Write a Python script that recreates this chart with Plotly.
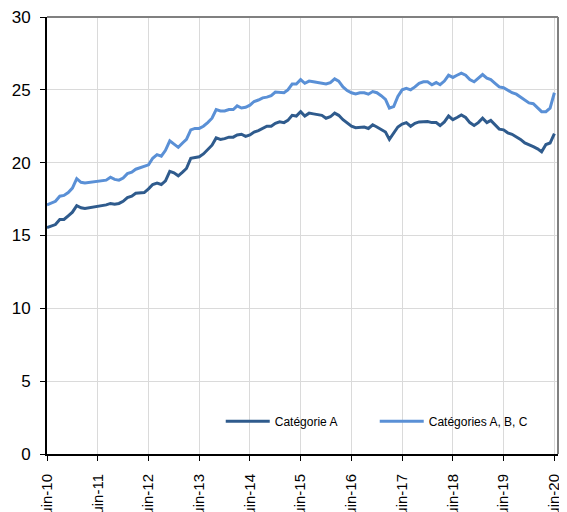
import pandas as pd
import plotly.graph_objects as go

dates = pd.date_range("2010-06-01", periods=121, freq="MS")

cat_a = [15.55, 15.65, 15.75, 16.1, 16.1, 16.35, 16.6, 17.05, 16.9, 16.85, 16.9, 16.95,
         16.95, 17.0, 17.1, 17.2, 17.15, 17.2, 17.35, 17.6, 17.7, 17.9, 17.9, 17.95,
         18.2, 18.5, 18.6, 18.5, 18.75, 19.4, 19.3, 19.1, 19.35, 19.6, 20.3, 20.35,
         20.4, 20.6, 20.9, 21.2, 21.7, 21.6, 21.65, 21.75, 21.75, 21.9, 21.95, 21.8,
         21.9, 22.1, 22.2, 22.35, 22.5, 22.5, 22.7, 22.8, 22.75, 22.9, 23.25, 23.2,
         23.5, 23.2, 23.4, 23.35, 23.3, 23.25, 23.05, 23.15, 23.4, 23.25, 22.95, 22.7,
         22.5, 22.4, 22.45, 22.45, 22.35, 22.6, 22.45, 22.25, 22.1, 21.6, 22.05, 22.45,
         22.65, 22.75, 22.5, 22.7, 22.8, 22.8, 22.82, 22.75, 22.75, 22.55, 22.8, 23.2,
         22.95, 23.1, 23.28, 23.1, 22.75, 22.55, 22.75, 23.05, 22.75, 22.9, 22.6, 22.3,
         22.25, 22.05, 21.95, 21.8, 21.6, 21.35, 21.25, 21.1, 20.95, 20.75, 21.25, 21.35,
         22.0]

cat_abc = [17.1, 17.2, 17.35, 17.7, 17.75, 17.95, 18.25, 18.9, 18.65, 18.6, 18.65, 18.7,
           18.7, 18.75, 18.8, 19.0, 18.85, 18.8, 18.95, 19.25, 19.35, 19.55, 19.65, 19.7,
           19.85, 20.3, 20.55, 20.45, 20.85, 21.5, 21.3, 21.05, 21.35, 21.6, 22.25, 22.35,
           22.35, 22.5, 22.75, 23.05, 23.65, 23.55, 23.55, 23.65, 23.65, 23.9, 23.75, 23.8,
           23.95, 24.2, 24.3, 24.45, 24.5, 24.6, 24.85, 24.85, 24.8, 25.0, 25.4, 25.4,
           25.7, 25.45, 25.6, 25.55, 25.5, 25.45, 25.4, 25.5, 25.75, 25.6, 25.2, 24.95,
           24.8, 24.72, 24.8, 24.8, 24.7, 24.88, 24.8, 24.6, 24.35, 23.75, 23.85, 24.55,
           25.0, 25.1, 25.0, 25.2, 25.45, 25.55, 25.55, 25.35, 25.5, 25.35, 25.6, 26.0,
           25.85, 26.0, 26.15, 26.0, 25.7, 25.55, 25.8, 26.05, 25.8, 25.7, 25.45, 25.2,
           25.15, 24.95, 24.8, 24.7, 24.5, 24.35, 24.1, 24.05, 23.8, 23.5, 23.5, 23.75,
           24.8]

tick_vals = pd.date_range("2010-06-01", periods=11, freq="12MS")
tick_text = ["juin-10", "juin-11", "juin-12", "juin-13", "juin-14", "juin-15",
             "juin-16", "juin-17", "juin-18", "juin-19", "juin-20"]

FONT = "Liberation Sans, Arial, sans-serif"

fig = go.Figure()
fig.add_trace(go.Scatter(x=dates, y=cat_a, mode="lines", name="Catégorie A",
                         line=dict(color="#2F5B8D", width=3)))
fig.add_trace(go.Scatter(x=dates, y=cat_abc, mode="lines", name="Catégories A, B, C",
                         line=dict(color="#5A90D6", width=3)))

# The page body adds an 8px offset; keep the page from overflowing horizontally.
fig.update_layout(
    width=551, height=504,
    margin=dict(l=39, r=1, t=9, b=58, autoexpand=False),
    paper_bgcolor="white", plot_bgcolor="white",
    font=dict(family=FONT, color="black"),
    showlegend=True,
    legend=dict(orientation="h", x=0.34, y=0.075, xanchor="left", yanchor="middle",
                font=dict(size=12, family=FONT), bgcolor="rgba(0,0,0,0)",
                itemwidth=44, entrywidth=95, tracegroupgap=0),
    shapes=[
        dict(type="line", xref="paper", yref="paper", x0=0, x1=1, y0=1, y1=1,
             line=dict(color="#808080", width=2), layer="above"),
        dict(type="line", xref="paper", yref="paper", x0=1, x1=1, y0=0, y1=1,
             line=dict(color="#808080", width=2), layer="above"),
    ],
)

fig.update_xaxes(
    range=[pd.Timestamp("2010-06-01"), pd.Timestamp("2020-06-27")],
    tickmode="array", tickvals=tick_vals, ticktext=tick_text, tickangle=-90,
    tickfont=dict(size=15, family=FONT), ticklabelstandoff=7,
    ticklabeloverflow="allow",
    showgrid=True, gridcolor="#DADADA", gridwidth=1,
    showline=True, linecolor="black", linewidth=2,
    ticks="outside", ticklen=5, tickcolor="black",
    zeroline=False, automargin=False,
)
fig.update_yaxes(
    range=[0, 30], tickvals=[0, 5, 10, 15, 20, 25, 30],
    tickfont=dict(size=17, family=FONT), ticklabelstandoff=6,
    ticklabeloverflow="allow",
    showgrid=True, gridcolor="#DADADA", gridwidth=1,
    showline=True, linecolor="black", linewidth=2,
    ticks="outside", ticklen=5, tickcolor="black",
    zeroline=False, automargin=False,
)

fig.write_html("out.html")
